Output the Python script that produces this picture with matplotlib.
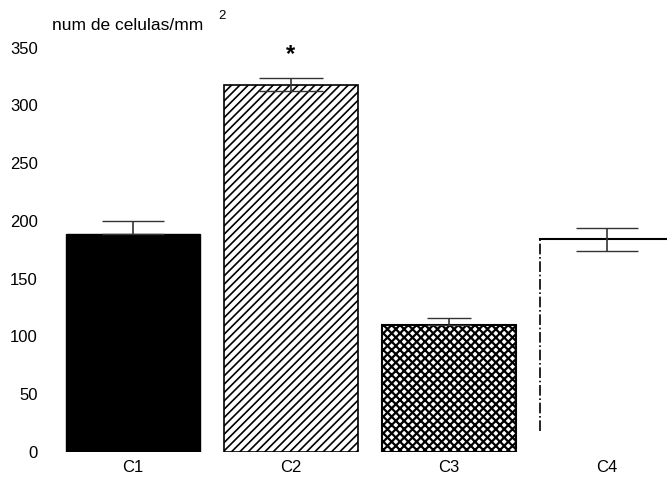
import matplotlib
matplotlib.use("Agg")
import matplotlib.pyplot as plt

plt.rcParams['font.family'] = ['Liberation Sans', 'DejaVu Sans']
plt.rcParams['hatch.color'] = 'black'

# data
groups = ['C1', 'C2', 'C3', 'C4']
values = [189, 318, 110, 184]
errors = [11, 6, 6, 10]
yticks = [0, 50, 100, 150, 200, 250, 300, 350]

W, H = 667, 480
fig = plt.figure(figsize=(W / 100, H / 100), dpi=100)
# axes: left edge ~60px, bottom (y=0) at ~452px, 1.157 px per unit
ax = fig.add_axes([60 / W, (H - 452) / H, (W - 60) / W, 416 / H])

x = list(range(len(groups)))
w = 0.85

# C1 solid black
ax.bar(x[0], values[0], w, color='black', edgecolor='black')
# C2 diagonal hatch
b2 = ax.bar(x[1], values[1], w, color='white', edgecolor='black', hatch='////', linewidth=1.2)
b2[0].set_hatch_linewidth(1.2)
# C3 cross hatch
b3 = ax.bar(x[2], values[2], w, color='white', edgecolor='black', hatch='xxxx', linewidth=1.5)
b3[0].set_hatch_linewidth(1.6)
# C4 empty bar, only left (dash-dot) and top edges drawn
ax.bar(x[3], values[3], w, color='white', edgecolor='none')
ax.plot([x[3] - w / 2, x[3] - w / 2], [values[3] * 0.1, values[3]], color='black',
        lw=1.2, ls='-.')
ax.plot([x[3] - w / 2, x[3] + w / 2], [values[3], values[3]], color='black', lw=1.5)

# error bars (C1, C3 upward only; C2, C4 both ways)
caps = [22, 23, 16, 22]
both = [False, True, False, True]
for i in x:
    lo = errors[i] if both[i] else 0
    ax.errorbar(x[i], values[i], yerr=[[lo], [errors[i]]], fmt='none', ecolor='#333333',
                elinewidth=1.2, capsize=caps[i], capthick=1.0)

# significance star above C2
ax.annotate('*', (x[1], values[1] + errors[1]), xytext=(0, 8), textcoords='offset points',
            ha='center', va='bottom', fontsize=17, fontweight='bold')

px_per_bar = 158
ax.set_xlim((60 - 133) / px_per_bar, (W - 133) / px_per_bar)
ax.set_ylim(0, 360)
ax.set_xticks(x)
ax.set_xticklabels(groups, fontsize=12)
ax.tick_params(axis='both', length=0)
ax.set_yticks(yticks)
ax.set_yticklabels([str(t) for t in yticks], fontsize=12)
ax.tick_params(axis='y', pad=16)
ax.tick_params(axis='x', pad=6)
for s in ax.spines.values():
    s.set_visible(False)

fig.text(52 / W, 1 - 26 / H, 'num de celulas/mm', fontsize=12.5, va='center', ha='left')
fig.text(218 / W, 1 - 16 / H, '2', fontsize=9.5, va='center', ha='left')

fig.savefig('out.png', dpi=100)
